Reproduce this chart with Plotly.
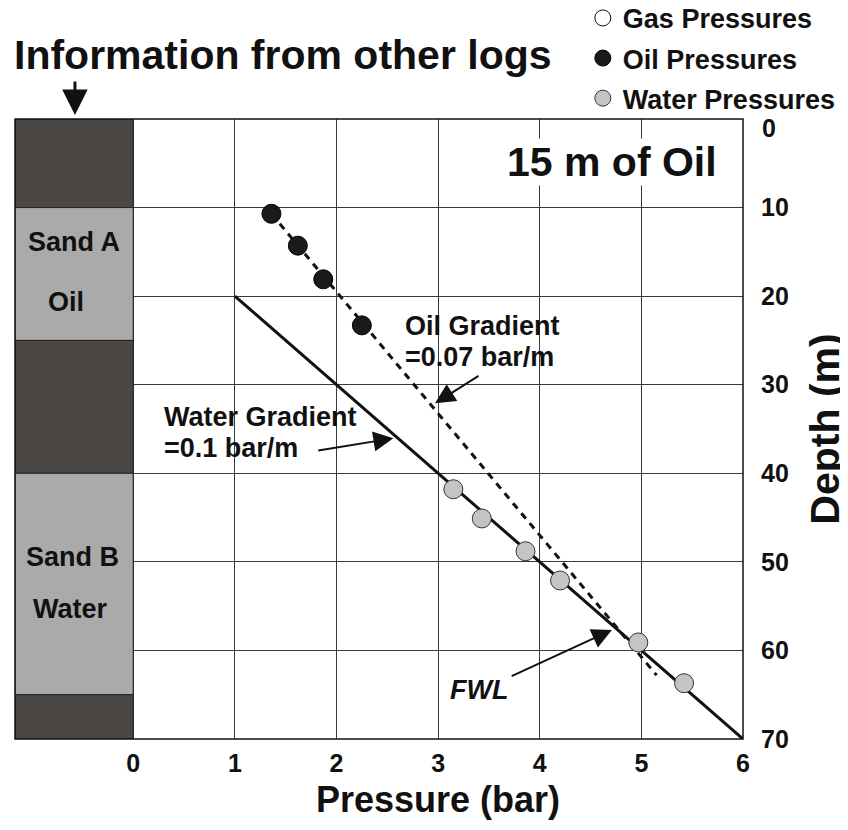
import plotly.graph_objects as go

# ---------------- data ----------------
oil_pressure = [1.36, 1.62, 1.87, 2.25]
oil_depth = [10.7, 14.3, 18.1, 23.3]

water_pressure = [3.15, 3.43, 3.86, 4.20, 4.97, 5.42]
water_depth = [41.8, 45.1, 48.8, 52.1, 59.1, 63.7]

gas_pressure = [None]
gas_depth = [None]

oil_gradient_p = [1.36, 5.15]
oil_gradient_d = [10.7, 62.8]

water_gradient_p = [1.0, 6.0]
water_gradient_d = [20.0, 70.0]

zone_top = [0, 10, 25, 40, 65]
zone_base = [10, 25, 40, 65, 70]
zone_type = ["shale", "sand", "shale", "sand", "shale"]
zone_labels = ["Sand A", "Oil", "Sand B", "Water"]

pressure_ticks = [0, 1, 2, 3, 4, 5, 6]
depth_ticks = [0, 10, 20, 30, 40, 50, 60, 70]

# ---------------- styling ----------------
FONT = "Liberation Sans, Arial, sans-serif"
X_MIN, X_MAX = -1.163, 6.0
SHALE = "#4a4744"
SAND = "#aaaaaa"
GRID = "#3a3a3a"
INK = "#111111"

fig = go.Figure()

fig.add_trace(go.Scatter(
    x=water_gradient_p, y=water_gradient_d, mode="lines",
    line=dict(color=INK, width=3), showlegend=False, hoverinfo="skip"))
fig.add_trace(go.Scatter(
    x=oil_gradient_p, y=oil_gradient_d, mode="lines",
    line=dict(color=INK, width=3, dash="7px,6px"), showlegend=False, hoverinfo="skip"))

fig.add_trace(go.Scatter(
    x=gas_pressure, y=gas_depth, mode="markers", name="Gas Pressures",
    legendgroup="g", marker=dict(size=16, color="white", line=dict(color=INK, width=1))))
fig.add_trace(go.Scatter(
    x=oil_pressure, y=oil_depth, mode="markers", name="Oil Pressures",
    legendgroup="o", marker=dict(size=19, color="#1a1a1a", line=dict(color="#000000", width=1))))
fig.add_trace(go.Scatter(
    x=water_pressure, y=water_depth, mode="markers", name="Water Pressures",
    legendgroup="w", marker=dict(size=19, color="#c4c4c4", line=dict(color="#333333", width=1))))

shapes = []
for top, base, kind in zip(zone_top, zone_base, zone_type):
    shapes.append(dict(type="rect", xref="x", yref="y", x0=X_MIN, x1=0, y0=top, y1=base,
                       fillcolor=SHALE if kind == "shale" else SAND,
                       line=dict(color="#222222", width=1), layer="above"))
shapes.append(dict(type="rect", xref="paper", yref="paper", x0=0, x1=1, y0=0, y1=1,
                   line=dict(color=INK, width=1.5), layer="above"))

annotations = []
# strip labels
label_pos = [(-0.578, 13.85), (-0.661, 20.63), (-0.595, 49.4), (-0.614, 55.36)]
for t, (lx, ly) in zip(zone_labels, label_pos):
    annotations.append(dict(x=lx, y=ly, xref="x", yref="y", text=f"<b>{t}</b>",
                            showarrow=False, font=dict(size=27, family=FONT, color=INK)))

def txt(x, y, s, size=27, xanchor="left", **kw):
    d = dict(x=x, y=y, xref="x", yref="y", text=s, showarrow=False, xanchor=xanchor,
             yanchor="middle", font=dict(size=size, family=FONT, color=INK))
    d.update(kw)
    return d

annotations += [
    txt(2.656, 23.37, "<b>Oil Gradient</b>"),
    txt(2.656, 26.87, "<b>=0.07 bar/m</b>"),
    txt(0.283, 33.6, "<b>Water Gradient</b>"),
    txt(0.283, 37.15, "<b>=0.1 bar/m</b>"),
    txt(3.101, 64.47, "<b><i>FWL</i></b>"),
    txt(4.713, 4.91, "<b>15 m of Oil</b>", size=41, xanchor="center", bgcolor="white", borderpad=0),
]

def arrow(x, y, ax, ay, w=2, s=2.0):
    return dict(x=x, y=y, ax=ax, ay=ay, xref="x", yref="y", axref="x", ayref="y",
                text="", showarrow=True, arrowhead=2, arrowwidth=w, arrowsize=s,
                arrowcolor=INK)

annotations += [
    arrow(2.970, 32.1, 3.413, 28.9),
    arrow(2.560, 36.05, 1.806, 37.45),
    arrow(4.710, 57.69, 3.709, 62.97),
]

# top label and arrow
annotations.append(dict(x=0.368, y=1.103, xref="paper", yref="paper",
                        xanchor="center", yanchor="middle",
                        text="<b>Information from other logs</b>", showarrow=False,
                        font=dict(size=41, family=FONT, color=INK)))
annotations.append(dict(x=-0.573, y=1.0065, xref="x", yref="paper", ax=0, ay=-35,
                        text="", showarrow=True, arrowhead=2, arrowwidth=3, arrowsize=1.7,
                        arrowcolor=INK))
# x title
annotations.append(dict(x=3, y=-0.098, xref="x", yref="paper", text="<b>Pressure (bar)</b>",
                        showarrow=False, xanchor="center", yanchor="middle",
                        font=dict(size=36, family=FONT, color=INK)))

# the top depth label sits slightly lower in the reference (clear of the legend)
depth_ticktext = ["" if d == depth_ticks[0] else str(d) for d in depth_ticks]
annotations.append(dict(x=1, y=depth_ticks[0] + 1.0, xref="paper", yref="y",
                        xshift=17, xanchor="left", yanchor="middle", showarrow=False,
                        text=f"<b>{depth_ticks[0]}</b>",
                        font=dict(size=25, family=FONT, color=INK)))

fig.update_layout(
    width=840, height=822,
    margin=dict(l=7, r=105, t=111, b=91, autoexpand=False),
    paper_bgcolor="white", plot_bgcolor="white",
    font=dict(family=FONT, color=INK),
    shapes=shapes, annotations=annotations,
    legend=dict(x=0.780, y=1.2018, xanchor="left", yanchor="top",
                font=dict(size=27, family=FONT, color=INK, weight="bold"),
                traceorder="grouped", tracegroupgap=2, itemsizing="trace",
                bgcolor="rgba(0,0,0,0)"),
    xaxis=dict(range=[X_MIN, X_MAX], tickvals=pressure_ticks, showgrid=True,
               gridcolor=GRID, gridwidth=1, zeroline=False, showline=False,
               automargin=False, ticklabelstandoff=7,
               tickfont=dict(size=25, family=FONT, color=INK, weight="bold"),
               ticks=""),
    yaxis=dict(range=[70, 0], tickvals=depth_ticks, ticktext=depth_ticktext,
               side="right", showgrid=True,
               gridcolor=GRID, gridwidth=1, zeroline=False, showline=False,
               automargin=False,
               tickfont=dict(size=25, family=FONT, color=INK, weight="bold"),
               ticks="", ticklabelstandoff=17,
               title=dict(text="<b>Depth (m)</b>", standoff=24,
                          font=dict(size=41, family=FONT, color=INK))),
)

fig.write_html("out.html")
